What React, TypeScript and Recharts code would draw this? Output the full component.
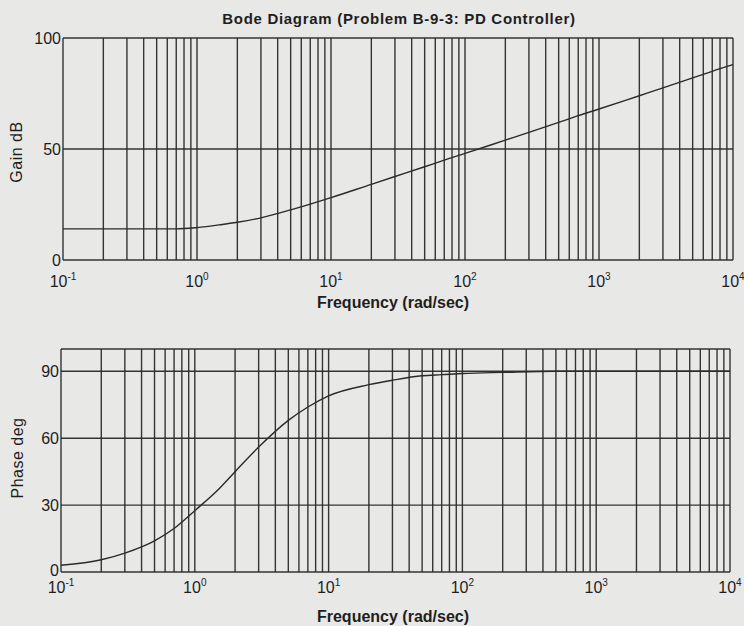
import React from "react";
import { LineChart, Line, XAxis, YAxis, CartesianGrid } from "recharts";

// Bode plot of the PD controller
const GAIN_FREQ = [0.1, 0.2, 0.3, 0.5, 0.7, 1, 1.5, 2, 3, 5, 7, 10, 20, 30, 50, 70, 100, 200, 300, 500, 700, 1000, 2000, 3000, 5000, 7000, 10000];
const GAIN_DB = [14, 14, 14, 14, 14, 14.6, 15.9, 17, 19, 22.6, 25.2, 28.1, 34.1, 37.6, 42, 45, 48, 54, 57.5, 62, 65, 68, 74, 77.5, 82, 85, 88];

const PHASE_FREQ = [0.1, 0.2, 0.3, 0.5, 0.7, 1, 1.5, 2, 3, 5, 7, 10, 20, 30, 50, 70, 100, 200, 500, 1000, 2000, 5000, 10000];
const PHASE_DEG = [3, 5.5, 8.5, 14, 19.5, 27.5, 37, 45, 56, 68, 74, 79, 84, 86, 88, 88.5, 89, 89.5, 90, 90, 90, 90, 90];

const DECADES = [0.1, 1, 10, 100, 1000, 10000];
const DECADE_LABELS = ["-1", "0", "1", "2", "3", "4"];
const MINOR_STEPS = [2, 3, 4, 5, 6, 7, 8, 9];

const GAIN_TICKS = [0, 50, 100];
const PHASE_TICKS = [0, 30, 60, 90, 100];
const PHASE_LABELED = [0, 30, 60, 90];

const FONT = "'Liberation Sans', Arial, Helvetica, sans-serif";
const INK = "#2a2a2a";
const BG = "#e8e8e6";

// every 1..9 x decade gets a grid line, only decades get a label
const FREQ_TICKS: number[] = [];
DECADES.forEach((d, i) => {
  FREQ_TICKS.push(d);
  if (i < DECADES.length - 1) MINOR_STEPS.forEach((m) => FREQ_TICKS.push(d * m));
});

const gainData = GAIN_FREQ.map((f, i) => ({ f, v: GAIN_DB[i] }));
const phaseData = PHASE_FREQ.map((f, i) => ({ f, v: PHASE_DEG[i] }));

function makeFreqTick(dy: number) {
  return function FreqTick(props: any) {
    const { x, y, payload } = props;
    const idx = DECADES.findIndex((d) => Math.abs(d - payload.value) < 1e-9);
    if (idx < 0) return <g />;
    return (
      <text x={x} y={y + dy} textAnchor="middle" fill="#1e1e1e" fontFamily={FONT} fontSize={16}>
        <tspan>10</tspan>
        <tspan dy={-7} fontSize={10}>
          {DECADE_LABELS[idx]}
        </tspan>
      </text>
    );
  };
}

function makeValueTick(labeled: number[], shift: number) {
  return function ValueTick(props: any) {
    const { x, y, payload } = props;
    if (!labeled.includes(payload.value)) return <g />;
    const extra = payload.value === 0 ? shift : 0;
    return (
      <text x={x} y={y} dy={5.5 + extra} textAnchor="end" fill="#1e1e1e" fontFamily={FONT} fontSize={16}>
        {payload.value}
      </text>
    );
  };
}

type PanelProps = {
  data: { f: number; v: number }[];
  yTicks: number[];
  labeled: number[];
  height: number;
  margin: { top: number; right: number; left: number; bottom: number };
  labelDy: number;
  zeroShift: number;
};

function BodePanel({ data, yTicks, labeled, height, margin, labelDy, zeroShift }: PanelProps) {
  return (
    <LineChart width={744} height={height} data={data} margin={margin}>
      <CartesianGrid stroke={INK} strokeWidth={1.4} strokeOpacity={0.95} />
      <XAxis
        dataKey="f"
        type="number"
        scale="log"
        domain={[0.1, 10000]}
        ticks={FREQ_TICKS}
        interval={0}
        allowDataOverflow
        axisLine={false}
        tickLine={false}
        tickSize={0}
        tickMargin={0}
        height={30}
        tick={makeFreqTick(labelDy)}
      />
      <YAxis
        type="number"
        domain={[0, 100]}
        ticks={yTicks}
        interval={0}
        axisLine={false}
        tickLine={false}
        tickSize={0}
        tickMargin={2}
        width={50}
        tick={makeValueTick(labeled, zeroShift)}
      />
      <Line
        type="monotone"
        dataKey="v"
        stroke={INK}
        strokeWidth={1.4}
        dot={false}
        isAnimationActive={false}
      />
    </LineChart>
  );
}

const textBase: React.CSSProperties = {
  position: "absolute",
  fontFamily: FONT,
  color: "#1e1e1e",
  whiteSpace: "nowrap",
};

export default function App() {
  return (
    <div style={{ position: "absolute", left: 0, top: 0, width: 744, height: 626, background: BG, overflow: "hidden" }}>
      <div style={{ position: "absolute", left: 0, top: 0 }}>
        <BodePanel
          data={gainData}
          yTicks={GAIN_TICKS}
          labeled={GAIN_TICKS}
          height={312}
          margin={{ top: 38, right: 11, left: 13, bottom: 22 }}
          labelDy={27}
          zeroShift={0}
        />
      </div>
      <div style={{ position: "absolute", left: 0, top: 312 }}>
        <BodePanel
          data={phaseData}
          yTicks={PHASE_TICKS}
          labeled={PHASE_LABELED}
          height={314}
          margin={{ top: 37, right: 14, left: 11, bottom: 24 }}
          labelDy={21}
          zeroShift={-1.5}
        />
      </div>

      <div style={{ ...textBase, left: 399, top: 18, transform: "translate(-50%, -50%)", fontSize: 15, fontWeight: 700, letterSpacing: 0.7 }}>
        Bode Diagram (Problem B-9-3: PD Controller)
      </div>
      <div style={{ ...textBase, left: 17, top: 152, transform: "translate(-50%, -50%) rotate(-90deg)", fontSize: 16, letterSpacing: 0.5 }}>
        Gain dB
      </div>
      <div style={{ ...textBase, left: 393, top: 303, transform: "translate(-50%, -50%)", fontSize: 16, fontWeight: 700 }}>
        Frequency (rad/sec)
      </div>
      <div style={{ ...textBase, left: 18, top: 458, transform: "translate(-50%, -50%) rotate(-90deg)", fontSize: 16, letterSpacing: 0.5 }}>
        Phase deg
      </div>
      <div style={{ ...textBase, left: 393, top: 617, transform: "translate(-50%, -50%)", fontSize: 16, fontWeight: 700 }}>
        Frequency (rad/sec)
      </div>
    </div>
  );
}
